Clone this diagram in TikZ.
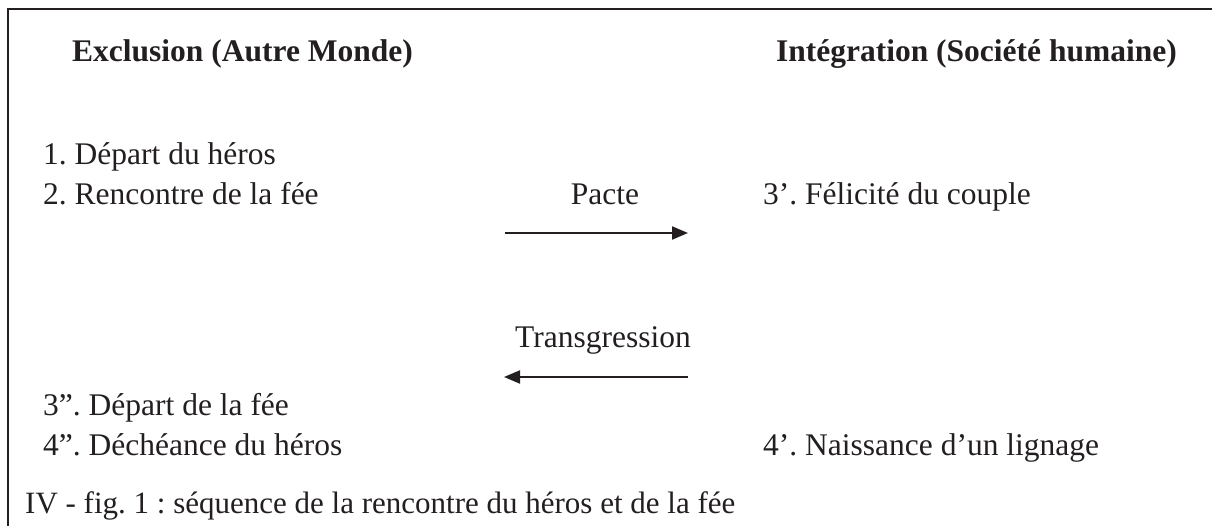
\documentclass[tikz,border=0pt]{standalone}
\usepackage{fontspec}
\setmainfont{Liberation Serif}
\usetikzlibrary{arrows.meta}
\definecolor{ink}{HTML}{231F20}
\frenchspacing
\tikzset{
  txt/.style={inner sep=0pt, anchor=base west, text=ink, font=\fontsize{31.5}{36}\selectfont\frenchspacing},
  head/.style={txt, font=\fontsize{31.5}{36}\selectfont\bfseries},
  captxt/.style={txt, font=\fontsize{31}{36}\selectfont\frenchspacing},
  conn/.style={draw=ink, line width=2pt, -{Triangle[length=16pt,width=13pt]}},
  frameline/.style={draw=ink, line width=2.2pt}
}
\begin{document}
\begin{tikzpicture}[x=1pt,y=-1pt]
\useasboundingbox (0,0) rectangle (1212,526);
\coordinate (fb) at (8,526);
\coordinate (fc) at (8,9);
\coordinate (fr) at (1212,9);
\draw[frameline] (fb) -- (fc) -- (fr);

\node[head] (h1) at (72,62) {Exclusion (Autre Monde)};
\node[head, anchor=base east] (h2) at (1177,62) {Intégration (Société humaine)};

\node[txt] (a1) at (43,165) {1. Départ du héros};
\node[txt] (a2) at (43,205) {2. Rencontre de la fée};
\node[txt, anchor=base] (pacte) at (605,205) {Pacte};
\node[txt] (b3) at (763,205) {3’. Félicité du couple};

\node[txt, anchor=base] (trans) at (603,348) {Transgression};
\node[txt] (a3) at (43,415) {3”. Départ de la fée};
\node[txt] (a4) at (43,455) {4”. Déchéance du héros};
\node[txt] (b4) at (763,455) {4’. Naissance d’un lignage};

\node[captxt] (cap) at (25,513) {IV - fig. 1 : séquence de la rencontre du héros et de la fée};

\coordinate (p1) at (505,233);
\coordinate (p2) at (688,233);
\draw[conn] (p1) -- (p2);
\coordinate (t1) at (688,377);
\coordinate (t2) at (504,377);
\draw[conn] (t1) -- (t2);
\end{tikzpicture}
\end{document}
